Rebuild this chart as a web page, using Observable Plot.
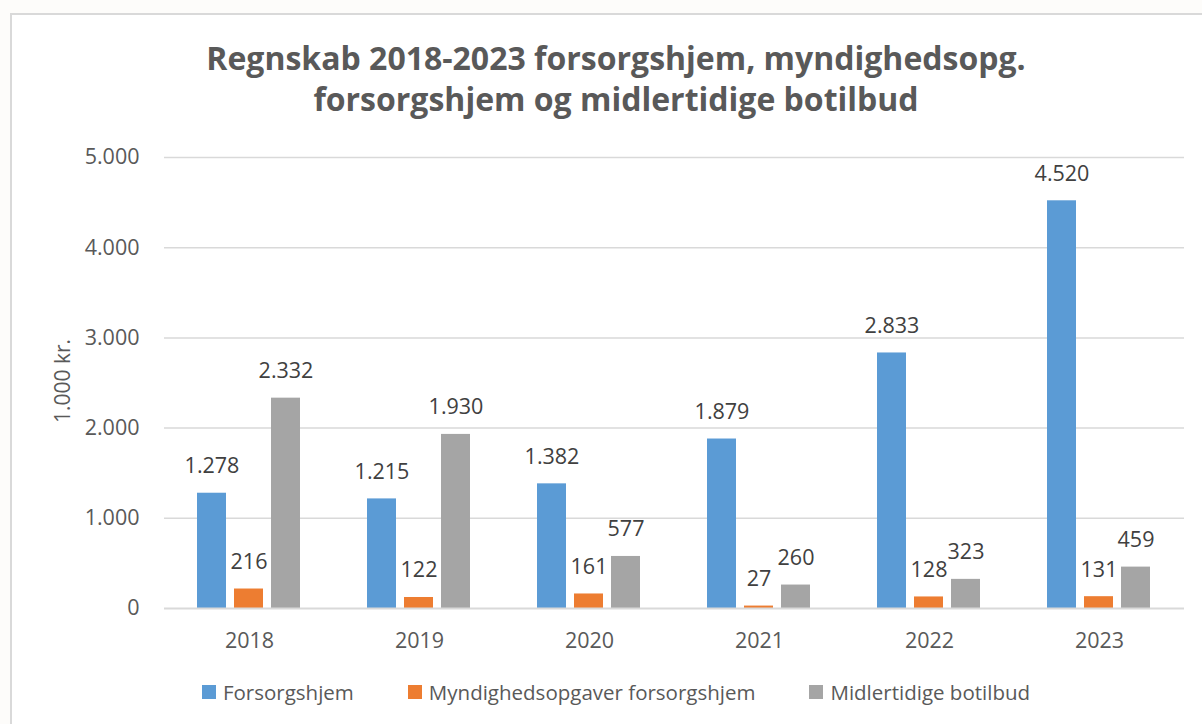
<!DOCTYPE html>
<html>
<head>
<meta charset="utf-8">
<script src="https://cdn.jsdelivr.net/npm/d3@7"></script>
<script src="https://cdn.jsdelivr.net/npm/@observablehq/plot@0.6"></script>
<style>
  html, body { margin: 0; padding: 0; background: #fdfcfa; width: 1202px; height: 724px; overflow: hidden; font-family: "Open Sans", Lato, sans-serif; }
  #frame { position: absolute; left: 10px; top: 13px; width: 1230px; height: 730px; border: 2px solid #d9d9d9; background: #fff; box-sizing: border-box; }
  #title { position: absolute; left: 0; width: 1232px; top: 37px; text-align: center; font-weight: bold; font-size: 32px; line-height: 41px; color: #595959; }
  #chart { position: absolute; left: 0; top: 130px; }
  #ylabel { position: absolute; left: 62px; top: 381px; transform: translate(-50%, -50%) rotate(-90deg); font-size: 21px; color: #595959; white-space: nowrap; }
  #legend { position: absolute; left: 0; width: 1232px; top: 678px; display: flex; justify-content: center; gap: 54px; font-size: 20.5px; color: #595959; }
  #legend .item { display: flex; align-items: center; }
  #legend .sw { width: 14px; height: 14px; margin-right: 7px; }
</style>
</head>
<body>
<div id="frame"></div>
<div id="title">Regnskab 2018-2023 forsorgshjem, myndighedsopg.<br>forsorgshjem og midlertidige botilbud</div>
<div id="chart"></div>
<div id="ylabel">1.000 kr.</div>
<div id="legend"></div>
<script>
const years = ["2018", "2019", "2020", "2021", "2022", "2023"];
const seriesNames = ["Forsorgshjem", "Myndighedsopgaver forsorgshjem", "Midlertidige botilbud"];
const forsorgshjem = [1278, 1215, 1382, 1879, 2833, 4520];
const myndighed = [216, 122, 161, 27, 128, 131];
const midlertidige = [2332, 1930, 577, 260, 323, 459];
const colors = ["#5b9bd5", "#ed7d31", "#a5a5a5"];
const yTicks = [0, 1000, 2000, 3000, 4000, 5000];

const seriesValues = [forsorgshjem, myndighed, midlertidige];
const data = [];
years.forEach((yr, i) => {
  seriesNames.forEach((s, j) => data.push({year: yr, series: s, value: seriesValues[j][i]}));
});

const fmt = d3.formatLocale({decimal: ",", thousands: ".", grouping: [3], currency: ["", " kr."]}).format(",d");

const chart = Plot.plot({
  width: 1202,
  height: 540,
  marginLeft: 162,
  marginRight: 17,
  marginTop: 27,
  marginBottom: 62,
  style: {fontFamily: "'Open Sans', Lato, sans-serif", color: "#595959", background: "transparent"},
  fx: {domain: years, padding: 0, label: null},
  x: {domain: seriesNames, paddingInner: 0.2105, paddingOuter: 0.849, axis: null},
  y: {domain: [0, 5000], label: null},
  color: {domain: seriesNames, range: colors},
  marks: [
    Plot.gridY(yTicks.filter(t => t > 0), {stroke: "#d9d9d9", strokeOpacity: 1, strokeWidth: 1.5}),
    Plot.axisY(yTicks, {tickSize: 0, tickPadding: 25, fontSize: 21.5, tickFormat: fmt, label: null}),
    Plot.axisFx({anchor: "bottom", tickSize: 0, tickPadding: 24, fontSize: 21.5, label: null}),
    Plot.barY(data, {fx: "year", x: "series", y: "value", fill: "series"}),
    Plot.ruleY([0], {stroke: "#d9d9d9", strokeWidth: 2}),
    Plot.text(data, {fx: "year", x: "series", y: "value", text: d => fmt(d.value), lineAnchor: "bottom", dy: -20, fontSize: 21.5, fill: "#404040"})
  ]
});
document.getElementById("chart").appendChild(chart);

const legend = document.getElementById("legend");
seriesNames.forEach((s, i) => {
  const item = document.createElement("div");
  item.className = "item";
  const sw = document.createElement("span");
  sw.className = "sw";
  sw.style.background = colors[i];
  const t = document.createElement("span");
  t.textContent = s;
  item.appendChild(sw);
  item.appendChild(t);
  legend.appendChild(item);
});
</script>
</body>
</html>
